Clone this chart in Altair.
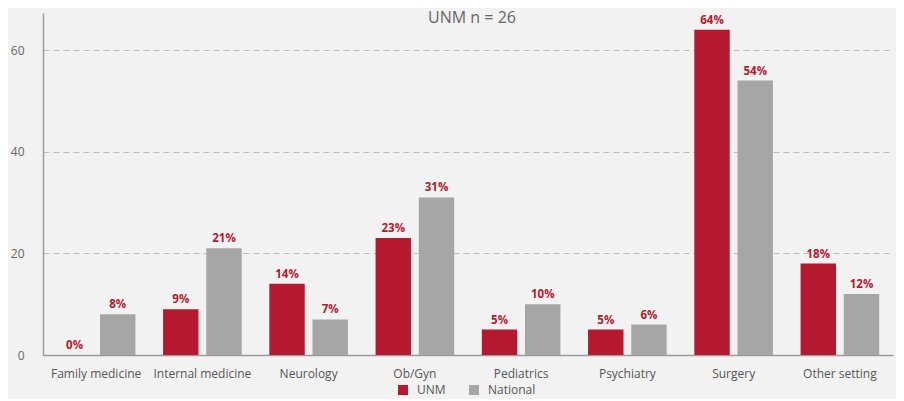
import altair as alt
import pandas as pd

categories = ["Family medicine", "Internal medicine", "Neurology", "Ob/Gyn",
              "Pediatrics", "Psychiatry", "Surgery", "Other setting"]
unm = [0, 9, 14, 23, 5, 5, 64, 18]
national = [8, 21, 7, 31, 10, 6, 54, 12]
groups = ["UNM", "National"]
colors = ["#b5192f", "#a6a6a6"]
subtitle = "UNM n = 26"

rows = []
for c, u, n in zip(categories, unm, national):
    rows.append({"category": c, "group": "UNM", "value": u})
    rows.append({"category": c, "group": "National", "value": n})
df = pd.DataFrame(rows)

FONT = "Open Sans"

base = alt.Chart(df).encode(
    x=alt.X("category:N", sort=categories, title=None,
            scale=alt.Scale(paddingInner=0.26, paddingOuter=0.13),
            axis=alt.Axis(labelAngle=0, ticks=False, labelPadding=13,
                          labelFontSize=12, labelColor="#555555", labelFont=FONT,
                          domainColor="#9a9a9a", domainWidth=1.5)),
    xOffset=alt.XOffset("group:N", sort=groups,
                        scale=alt.Scale(paddingInner=0.18, paddingOuter=0)),
)

bars = base.mark_bar().encode(
    y=alt.Y("value:Q", title=None,
            scale=alt.Scale(domain=[0, 67.3], nice=False),
            axis=alt.Axis(values=[0, 20, 40, 60], ticks=False, labelPadding=19,
                          labelFontSize=12, labelColor="#666666", labelFont=FONT,
                          domainColor="#9a9a9a", domainWidth=1.5,
                          grid=True, gridDash=[6, 4], gridColor="#bdbdbd",
                          gridWidth=1)),
    color=alt.Color("group:N", sort=groups,
                    scale=alt.Scale(domain=groups, range=colors),
                    legend=alt.Legend(title=None, orient="none", direction="horizontal",
                                      legendX=354, legendY=371,
                                      symbolType="square", symbolSize=100,
                                      symbolStrokeWidth=0, labelFontSize=12,
                                      labelColor="#555555", labelFont=FONT,
                                      columnPadding=22, labelOffset=8)),
)

labels = base.mark_text(dy=-9, fontSize=11.5, fontWeight="bold", color="#b5192f",
                        font=FONT).encode(
    y=alt.Y("value:Q"),
    text=alt.Text("label:N"),
).transform_calculate(label="datum.value + '%'")

title_layer = alt.Chart(pd.DataFrame({"t": [subtitle]})).mark_text(
    fontSize=16, color="#666666", font=FONT, baseline="alphabetic"
).encode(x=alt.value(429), y=alt.value(10), text="t:N")

chart = alt.layer(bars, labels, title_layer).properties(
    width=850, height=342,
    background="#f2f2f2",
    autosize=alt.AutoSizeParams(type="none"),
    padding={"left": 35, "top": 5, "right": 3, "bottom": 44},
).configure_view(stroke=None).configure_axisX(grid=False)

chart.save("out.html", embed_options={"renderer": "svg", "actions": False})
